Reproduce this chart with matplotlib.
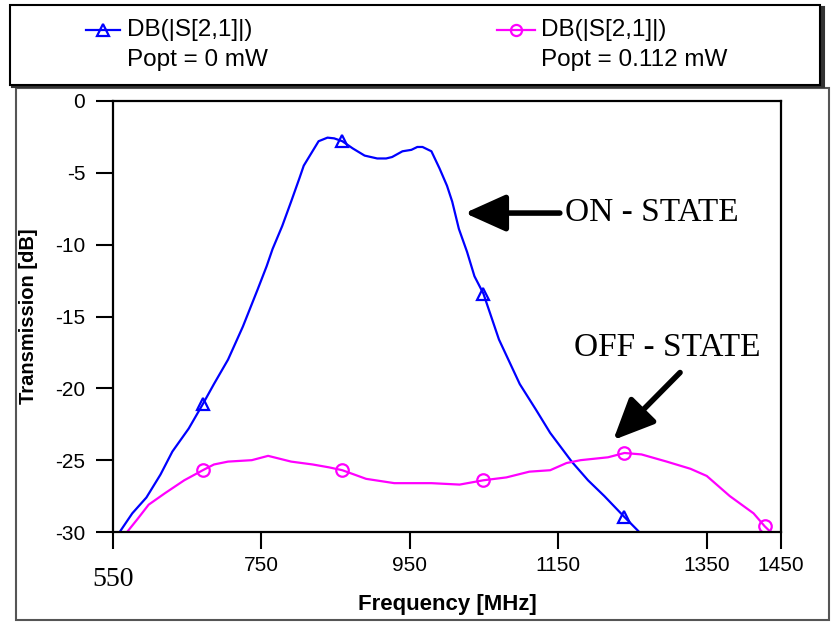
import numpy as np
import matplotlib.pyplot as plt
from matplotlib.patches import Rectangle
from matplotlib.lines import Line2D

# ON-state transmission (Popt = 0 mW)
on_freq = [559, 576, 595, 614, 630, 652, 671, 686, 705, 725, 745, 757, 765, 778,
           790, 801, 807, 817, 827, 839, 848, 859, 873, 889, 906, 918, 926, 940,
           952, 960, 967, 979, 990, 1000, 1007, 1016, 1027, 1037, 1049, 1070,
           1098, 1120, 1139, 1168, 1190, 1212, 1238, 1259]
on_db = [-30, -28.7, -27.6, -26.0, -24.4, -22.8, -21.1, -19.7, -18.0, -15.7,
         -13.1, -11.5, -10.3, -8.7, -7.0, -5.4, -4.5, -3.65, -2.8, -2.55, -2.6,
         -2.8, -3.3, -3.8, -4.0, -4.0, -3.9, -3.5, -3.4, -3.2, -3.2, -3.5, -4.7,
         -5.9, -7.0, -8.9, -10.5, -12.2, -13.4, -16.6, -19.7, -21.5, -23.1,
         -25.1, -26.4, -27.5, -28.9, -30]

# OFF-state transmission (Popt = 0.112 mW)
off_freq = [569, 583, 598, 620, 646, 671, 686, 705, 737, 759, 790, 819, 841, 859,
            891, 929, 979, 1017, 1049, 1080, 1111, 1139, 1161, 1180, 1217, 1239,
            1262, 1296, 1328, 1350, 1381, 1413, 1428, 1440]
off_db = [-30, -29.1, -28.1, -27.3, -26.4, -25.7, -25.3, -25.1, -25.0, -24.7,
          -25.1, -25.3, -25.5, -25.7, -26.3, -26.6, -26.6, -26.7, -26.4, -26.2,
          -25.8, -25.7, -25.2, -25.0, -24.8, -24.5, -24.6, -25.1, -25.6, -26.1,
          -27.5, -28.7, -29.6, -30.2]

on_marks = [671, 859, 1049, 1239]
off_marks = [671, 859, 1049, 1239, 1428]

xticks = [550, 750, 950, 1150, 1350, 1450]
xticklabels = ['', '750', '950', '1150', '1350', '1450']
yticks = [0, -5, -10, -15, -20, -25, -30]

W, H = 831, 623
fig = plt.figure(figsize=(W / 100, H / 100), dpi=100)

sans = 'Liberation Sans'
serif = 'Liberation Serif'

# outer frame
fig.add_artist(Rectangle((16 / W, 1 - 620 / H), (829 - 16) / W, (620 - 88) / H,
                         transform=fig.transFigure, fill=False, ec='#555555', lw=1.5))

ax = fig.add_axes([113 / W, 1 - 532 / H, (781 - 113) / W, (532 - 101) / H])
ax.plot(on_freq, on_db, color='#0000ff', lw=1.6)
ax.plot(off_freq, off_db, color='#ff00ff', lw=1.6)
ax.plot(on_marks, np.interp(on_marks, on_freq, on_db), ls='none', marker='^',
        ms=9, mfc='none', mec='#0000ff', mew=1.6)
ax.plot(off_marks, np.interp(off_marks, off_freq, off_db), ls='none', marker='o',
        ms=9, mfc='none', mec='#ff00ff', mew=1.6)

ax.set_xlim(550, 1450)
ax.set_ylim(-30, 0)
ax.set_xticks(xticks)
ax.set_xticklabels(xticklabels, fontfamily=sans, fontsize=15)
ax.set_yticks(yticks)
ax.set_yticklabels([str(v) for v in yticks], fontfamily=sans, fontsize=15)
ax.tick_params(axis='y', direction='out', length=12, width=1.5, pad=8)
ax.tick_params(axis='x', direction='out', length=12, width=1.5, pad=5)
for s in ax.spines.values():
    s.set_linewidth(1.6)

ax.set_xlabel('Frequency [MHz]', fontfamily=sans, fontsize=16, fontweight='bold', labelpad=14)
ax.set_ylabel('Transmission [dB]', fontfamily=sans, fontsize=14.5, fontweight='bold', labelpad=12)
ax.text(550, -33.3, '550', fontfamily=serif, fontsize=20, ha='center', va='center')

# annotations
arrow = dict(arrowstyle='-|>,head_length=1.0,head_width=0.45', lw=4, color='k',
             shrinkA=0, shrinkB=0, mutation_scale=25)
ax.annotate('', xy=(1024, -7.8), xytext=(1152, -7.8), arrowprops=arrow)
ax.text(1159, -7.8, 'ON - STATE', fontfamily=serif, fontsize=24, va='center', ha='left')
ax.annotate('', xy=(1224, -23.6), xytext=(1314, -18.9), arrowprops=arrow)
ax.text(1171, -17.2, 'OFF - STATE', fontfamily=serif, fontsize=24, va='center', ha='left')

# legend box
fig.add_artist(Rectangle((12 / W, 1 - 87 / H), (822 - 10) / W, (87 - 7) / H,
                         transform=fig.transFigure, fc='#333333', ec='#333333', lw=1.5))
fig.add_artist(Rectangle((10 / W, 1 - 85 / H), (820 - 10) / W, (85 - 5) / H,
                         transform=fig.transFigure, fc='white', ec='black', lw=1.5))
fig.add_artist(Line2D([86 / W, 120 / W], [1 - 30 / H] * 2, color='#0000ff', lw=1.6,
                      transform=fig.transFigure))
fig.add_artist(Line2D([103 / W], [1 - 30 / H], marker='^', ms=8, mfc='none',
                      mec='#0000ff', mew=1.6, transform=fig.transFigure))
fig.add_artist(Line2D([497 / W, 535 / W], [1 - 30 / H] * 2, color='#ff00ff', lw=1.6,
                      transform=fig.transFigure))
fig.add_artist(Line2D([516 / W], [1 - 30 / H], marker='o', ms=8, mfc='none',
                      mec='#ff00ff', mew=1.6, transform=fig.transFigure))
fig.text(127 / W, 1 - 30 / H, 'DB(|S[2,1]|)', fontfamily=sans, fontsize=17.5, va='center')
fig.text(127 / W, 1 - 60 / H, 'Popt = 0 mW', fontfamily=sans, fontsize=17.5, va='center')
fig.text(541 / W, 1 - 30 / H, 'DB(|S[2,1]|)', fontfamily=sans, fontsize=17.5, va='center')
fig.text(541 / W, 1 - 60 / H, 'Popt = 0.112 mW', fontfamily=sans, fontsize=17.5, va='center')

fig.savefig('out.png', dpi=100)
